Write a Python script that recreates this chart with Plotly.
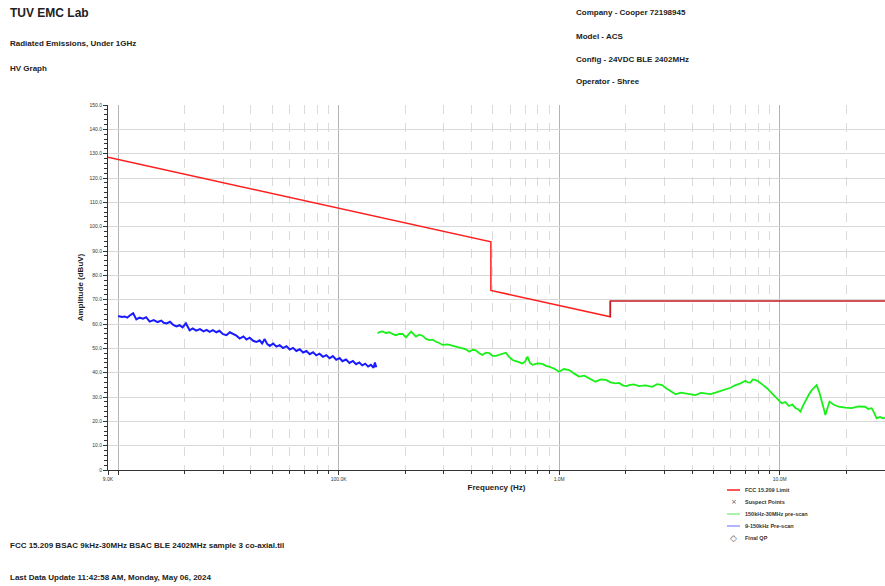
import numpy as np
import plotly.graph_objects as go

# ---------------- data ----------------
limit_freq_hz = [9e3, 490e3, 490e3, 1.705e6, 1.705e6, 30e6]
limit_dbuv = [128.5, 93.8, 73.8, 63.0, 69.5, 69.5]

blue_freq_khz = [10.0, 10.4, 10.7, 11.0, 11.3, 11.7, 12.1, 12.5, 13.0, 13.4, 13.9, 14.5, 15.1, 15.7,
                 16.1, 16.6, 17.2, 17.8, 18.4, 19.0, 19.6, 20.3, 21.1, 21.8, 22.6, 23.5, 24.4, 25.2,
                 26.0, 26.9, 27.9, 28.8, 29.9, 31.0, 32.1, 33.2, 34.4, 35.6, 37.0, 38.2, 39.5, 41.0,
                 42.4, 43.8, 45.0, 46.2, 47.4, 48.7, 50.5, 52.2, 54.0, 56.0, 58.0, 60.0, 62.1, 64.3,
                 66.6, 69.0, 71.4, 74.0, 76.6, 79.2, 81.9, 84.9, 87.9, 91.0, 94.1, 97.5, 101, 104,
                 108, 112, 116, 120, 124, 128, 132, 136, 140, 144, 146, 148]
blue_dbuv = [63.3, 62.9, 63.1, 62.6, 63.5, 64.4, 61.9, 62.6, 62.2, 62.8, 61.0, 61.6, 60.8, 61.4,
             60.5, 60.2, 60.9, 59.6, 59.0, 59.5, 58.6, 60.3, 57.4, 58.2, 57.3, 57.9, 57.0, 57.6,
             56.8, 57.5, 56.6, 57.2, 55.8, 55.4, 56.6, 56.0, 55.2, 54.0, 54.9, 53.6, 54.4, 53.1,
             52.6, 53.3, 52.0, 53.8, 51.8, 51.0, 52.0, 50.7, 51.3, 50.1, 50.9, 49.5, 50.2, 48.9,
             49.6, 48.3, 48.9, 47.6, 48.4, 47.1, 47.8, 46.5, 47.2, 45.9, 46.8, 45.3, 46.0, 44.7,
             45.4, 44.0, 44.8, 43.5, 44.2, 43.0, 43.7, 42.5, 43.2, 42.0, 44.2, 42.2]

green_freq_khz = [150, 154, 158, 164, 170, 176, 182, 188, 195, 202, 207, 213, 218, 224, 232, 240,
                  249, 258, 267, 276, 286, 296, 312, 329, 340, 352, 365, 378, 391, 405, 419, 434,
                  449, 465, 482, 499, 517, 545, 573, 593, 614, 647, 681, 700, 718, 737, 756, 798,
                  840, 870, 900, 950, 998, 1050, 1110, 1170, 1230, 1300, 1370, 1415, 1460, 1545,
                  1630, 1710, 1800, 1870, 1950, 2030, 2070, 2180, 2300, 2460, 2640, 2780, 2930,
                  3030, 3140, 3250, 3370, 3550, 3740, 3940, 4150, 4380, 4610, 4850, 5110, 5380,
                  5670, 5980, 6300, 6640, 6990, 7170, 7360, 7550, 7750, 8010, 8300, 8750, 9220,
                  9700, 10200, 10600, 11000, 11400, 11800, 12100, 12400, 12750, 13100, 13550,
                  14000, 14350, 14700, 15100, 15500, 15800, 16100, 16450, 16800, 17600, 18500,
                  19800, 21200, 22800, 24400, 25200, 26100, 26800, 27500, 28500, 29500, 30000]
green_dbuv = [56.2, 56.8, 56.9, 56.3, 56.6, 55.8, 55.4, 55.9, 55.9, 54.5, 55.6, 56.9, 55.9, 54.8,
              55.6, 55.2, 53.9, 53.4, 53.6, 52.7, 52.2, 51.4, 51.6, 51.0, 50.8, 50.4, 49.8, 49.6,
              48.6, 49.4, 49.2, 48.0, 47.3, 48.2, 48.0, 46.9, 46.9, 47.6, 48.2, 46.5, 45.2, 44.5,
              43.8, 44.5, 46.6, 44.0, 43.2, 43.8, 43.6, 42.8, 42.5, 41.6, 40.4, 41.5, 41.1, 39.6,
              38.4, 38.8, 37.7, 36.8, 36.3, 37.2, 37.0, 36.0, 35.6, 35.8, 34.7, 34.5, 34.9, 35.2,
              34.5, 34.8, 34.2, 35.3, 34.9, 33.8, 32.9, 32.0, 31.1, 31.8, 31.5, 31.0, 30.8, 31.7,
              31.5, 31.2, 31.8, 32.4, 32.9, 33.8, 34.9, 35.6, 36.7, 36.0, 35.9, 37.2, 37.0, 36.4,
              35.3, 33.6, 31.5, 29.6, 27.4, 27.9, 26.3, 26.9, 25.4, 25.0, 24.0, 26.5, 28.8, 31.0,
              32.9, 34.0, 34.9, 32.0, 28.8, 25.5, 22.6, 26.0, 28.1, 26.8, 26.0, 25.6, 25.4, 26.1,
              26.0, 25.1, 25.4, 23.5, 21.2, 21.8, 21.2, 21.6]

y_tick_vals = [0, 10, 20, 30, 40, 50, 60, 70, 80, 90, 100, 110, 120, 130, 140, 150]
y_tick_text = ["0", "10.0", "20.0", "30.0", "40.0", "50.0", "60.0", "70.0", "80.0", "90.0",
               "100.0", "110.0", "120.0", "130.0", "140.0", "150.0"]
x_tick_vals = [9e3, 1e4, 1e5, 1e6, 1e7, 3e7]
x_tick_text = ["9.0K", "", "100.0K", "1.0M", "10.0M", "30.0M"]
x_minor_vals = [m * 10 ** e for e in range(4, 8) for m in range(2, 10) if m * 10 ** e < 3e7]

legend_names = ["FCC 15.209 Limit", "Suspect Points", "150kHz-30MHz pre-scan",
                "9-150kHz Pre-scan", "Final QP"]

# ---------------- figure ----------------
FONT = "Liberation Sans, Arial, sans-serif"
fig = go.Figure()

fig.add_trace(go.Scatter(x=limit_freq_hz[:5], y=limit_dbuv[:5], mode="lines",
                         line=dict(color="#ff1e1e", width=1.5), name=legend_names[0]))
fig.add_trace(go.Scatter(x=limit_freq_hz[3:], y=limit_dbuv[3:], mode="lines",
                         line=dict(color="#c41a22", width=1.5), showlegend=False))
fig.add_trace(go.Scatter(x=[f * 1e3 for f in green_freq_khz], y=green_dbuv, mode="lines",
                         line=dict(color="#18f018", width=1.8), name=legend_names[2]))
fig.add_trace(go.Scatter(x=[f * 1e3 for f in blue_freq_khz], y=blue_dbuv, mode="lines",
                         line=dict(color="#1a1aff", width=2), name=legend_names[3]))

fig.update_xaxes(type="log", range=[np.log10(9e3), np.log10(30e6)],
                 tickvals=x_tick_vals, ticktext=x_tick_text,
                 tickfont=dict(size=5, family=FONT, color="#333"),
                 ticks="outside", ticklen=4, tickcolor="#333",
                 showgrid=True, gridcolor="#b4b4b4", gridwidth=1,
                 minor=dict(tickvals=x_minor_vals, ticks="outside", ticklen=3, tickcolor="#333",
                            showgrid=True, gridcolor="#dadada", griddash="dash", gridwidth=1),
                 showline=True, linecolor="#333", linewidth=1, zeroline=False,
                 title=dict(text="<b>Frequency (Hz)</b>", font=dict(size=8, family=FONT, color="#222"),
                            standoff=3))
fig.update_yaxes(range=[0, 150], tickvals=y_tick_vals, ticktext=y_tick_text,
                 tickfont=dict(size=5, family=FONT, color="#333"),
                 ticks="outside", ticklen=4, tickcolor="#333",
                 showgrid=True, gridcolor="#d8d8d8", gridwidth=1,
                 minor=dict(dtick=2, ticks="outside", ticklen=3, tickcolor="#333", showgrid=False),
                 showline=True, linecolor="#333", linewidth=1, zeroline=False,
                 title=dict(text="<b>Amplitude (dBuV)</b>", font=dict(size=8, family=FONT, color="#222"),
                            standoff=4))

L, R, T, B = 108, 0, 105, 116
W, H = 885, 586
pw, ph = W - L - R, H - T - B


def px(x):
    return (x - L) / pw


def py(y):
    return (H - B - y) / ph


texts = [
    ("TUV EMC Lab", 8, 13, 12),
    ("Radiated Emissions, Under 1GHz", 8, 43, 8),
    ("HV Graph", 8, 68, 8),
    ("Company - Cooper 72198945", 574, 13, 8),
    ("Model - ACS", 574, 36, 8),
    ("Config - 24VDC BLE 2402MHz", 574, 59, 8),
    ("Operator - Shree", 574, 81, 8),
    ("FCC 15.209 BSAC 9kHz-30MHz BSAC BLE 2402MHz sample 3 co-axial.til", 8, 545, 8),
    ("Last Data Update 11:42:58 AM, Monday, May 06, 2024", 8, 577, 8),
]
for t, x, y, s in texts:
    fig.add_annotation(text=f"<b>{t}</b>", x=px(x), y=py(y), xref="paper", yref="paper",
                       xanchor="left", yanchor="middle", showarrow=False,
                       font=dict(size=s, family=FONT, color="#222"))

# manual compact legend
leg_rows = [490, 502, 514, 526, 538]
leg_line_colors = ["#ff1e1e", None, "#90ee90", "#9a9aff", None]
leg_symbols = [None, "×", None, None, "◇"]
for name, yrow, col, sym in zip(legend_names, leg_rows, leg_line_colors, leg_symbols):
    if col:
        fig.add_shape(type="line", xref="paper", yref="paper",
                      x0=px(727), x1=px(740), y0=py(yrow), y1=py(yrow),
                      line=dict(color=col, width=1.5))
    else:
        fig.add_annotation(text=sym, x=px(733.5), y=py(yrow), xref="paper", yref="paper",
                           xanchor="center", yanchor="middle", showarrow=False,
                           font=dict(size=7 if sym == "×" else 9, family="DejaVu Sans", color="#555"))
    fig.add_annotation(text=f"<b>{name}</b>", x=px(743), y=py(yrow), xref="paper", yref="paper",
                       xanchor="left", yanchor="middle", showarrow=False,
                       font=dict(size=5.5, family=FONT, color="#333"))

fig.update_layout(
    width=W, height=H, margin=dict(l=L, r=R, t=T, b=B),
    paper_bgcolor="white", plot_bgcolor="white",
    showlegend=False,
)

fig.write_html("out.html", config={"displayModeBar": False},
               post_script="document.body.style.margin='0';")
